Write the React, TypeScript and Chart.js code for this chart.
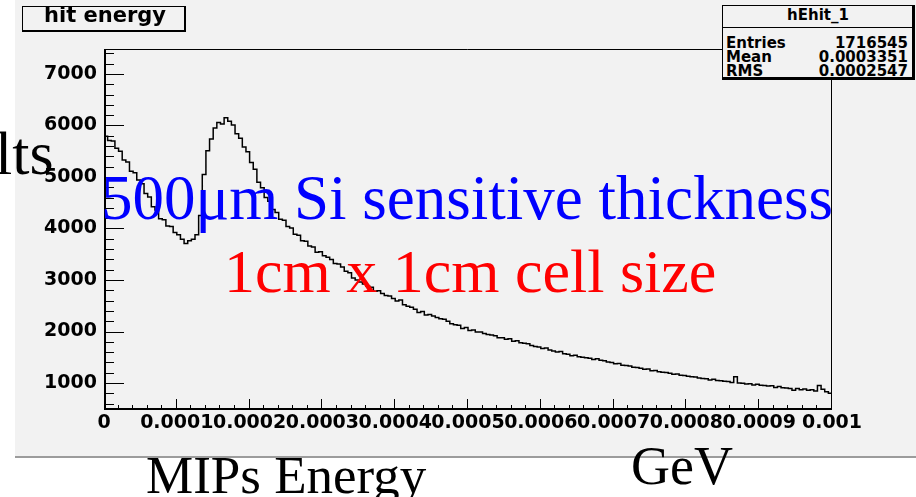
import { useEffect, useRef } from "react";
import { Chart, registerables } from "chart.js";

Chart.register(...registerables);

// Histogram range (GeV) and vertical range of the frame
const X_MIN = 0;
const X_MAX = 0.001;
const Y_MIN = 476;
const Y_MAX = 7485;

// Hit counts per bin (200 equal bins from X_MIN to X_MAX)
const HIT_COUNTS = [
  5790, 5710, 5700, 5560, 5500, 5330, 5290, 5110, 5080, 4940,
  4870, 4680, 4610, 4420, 4360, 4190, 4170, 4050, 4040, 3920,
  3880, 3790, 3710, 3760, 3790, 3880, 4250, 5050, 5510, 5740,
  5950, 6060, 6030, 6150, 6080, 6010, 5840, 5750, 5580, 5490,
  5280, 5150, 4900, 4790, 4600, 4530, 4370, 4310, 4180, 4160,
  4040, 4010, 3890, 3870, 3760, 3750, 3660, 3640, 3540, 3550,
  3470, 3440, 3400, 3320, 3310, 3250, 3170, 3140, 3040, 3000,
  2960, 2920, 2880, 2860, 2780, 2790, 2740, 2700, 2690, 2640,
  2590, 2610, 2520, 2490, 2470, 2430, 2370, 2390, 2320, 2330,
  2300, 2270, 2250, 2240, 2200, 2150, 2130, 2120, 2060, 2080,
  2020, 2030, 1990, 1990, 1960, 1940, 1930, 1920, 1880, 1880,
  1850, 1860, 1810, 1820, 1780, 1770, 1760, 1730, 1710, 1700,
  1670, 1680, 1640, 1620, 1600, 1610, 1570, 1560, 1530, 1540,
  1510, 1500, 1490, 1480, 1455, 1470, 1440, 1430, 1410, 1400,
  1375, 1380, 1345, 1340, 1330, 1305, 1300, 1285, 1265, 1270,
  1240, 1245, 1220, 1210, 1205, 1190, 1170, 1175, 1150, 1145,
  1130, 1120, 1115, 1095, 1090, 1085, 1060, 1075, 1050, 1045,
  1035, 1030, 1010, 1120, 1000, 995, 980, 985, 960, 975,
  955, 950, 940, 945, 915, 930, 910, 905, 895, 860,
  895, 870, 885, 860, 870, 845, 950, 880, 830, 800,
];

const X_TICKS = [0, 0.0001, 0.0002, 0.0003, 0.0004, 0.0005, 0.0006, 0.0007, 0.0008, 0.0009, 0.001];
const X_TICK_LABELS = ["0", "0.0001", "0.0002", "0.0003", "0.0004", "0.0005", "0.0006", "0.0007", "0.0008", "0.0009", "0.001"];
const X_MINOR_STEP = 0.00002;

const Y_TICKS = [1000, 2000, 3000, 4000, 5000, 6000, 7000];
const Y_TICK_LABELS = ["1000", "2000", "3000", "4000", "5000", "6000", "7000"];
const Y_MINOR_STEP = 200;

const HIST_TITLE = "hit energy";
const STATS_NAME = "hEhit_1";
const STATS_KEYS = ["Entries", "Mean", "RMS"];
const STATS_VALUES = ["1716545", "0.0003351", "0.0002547"];

const ROOT_FONT = "'DejaVu Sans', sans-serif";
const SERIF_FONT = "'Liberation Serif', 'Times New Roman', serif";
const PANEL_GREY = "#f2f2f2";

// Frame with thick axes and inward-pointing tick marks
const frameTicks = {
  id: "frameTicks",
  afterDatasetsDraw(chart: any) {
    const { ctx, chartArea: a, scales } = chart;
    const xs = scales.x;
    const ys = scales.y;
    ctx.save();
    ctx.strokeStyle = "#000";
    ctx.lineWidth = 1;
    ctx.beginPath();
    ctx.moveTo(a.left, a.top + 0.5);
    ctx.lineTo(a.right - 0.5, a.top + 0.5);
    ctx.lineTo(a.right - 0.5, a.bottom);
    ctx.stroke();

    ctx.lineWidth = 2;
    ctx.beginPath();
    ctx.moveTo(a.left + 1, a.top);
    ctx.lineTo(a.left + 1, a.bottom - 1);
    ctx.lineTo(a.right, a.bottom - 1);
    ctx.stroke();

    ctx.lineWidth = 1;
    ctx.beginPath();
    const yCount = Math.floor((Y_MAX - Y_MIN) / Y_MINOR_STEP) + 1;
    const yStart = Math.ceil(Y_MIN / Y_MINOR_STEP) * Y_MINOR_STEP;
    for (let k = 0; k < yCount; k++) {
      const v = yStart + k * Y_MINOR_STEP;
      if (v > Y_MAX) break;
      const major = Y_TICKS.some((t) => Math.abs(t - v) < 1e-6);
      const y = Math.round(ys.getPixelForValue(v)) + 0.5;
      ctx.moveTo(a.left + 2, y);
      ctx.lineTo(a.left + (major ? 20 : 10), y);
    }
    const xCount = Math.round((X_MAX - X_MIN) / X_MINOR_STEP);
    for (let k = 1; k <= xCount; k++) {
      const v = X_MIN + k * X_MINOR_STEP;
      const major = X_TICKS.some((t) => Math.abs(t - v) < 1e-10);
      const x = Math.round(xs.getPixelForValue(v)) - 0.5;
      ctx.moveTo(x, a.bottom - 2);
      ctx.lineTo(x, a.bottom - (major ? 11 : 5));
    }
    ctx.stroke();
    ctx.restore();
  },
};

function Txt(props: {
  left?: number;
  right?: number;
  top: number;
  size: number;
  family: string;
  bold?: boolean;
  color?: string;
  center?: boolean;
  children: string;
}) {
  const { left, right, top, size, family, bold, color, center, children } = props;
  return (
    <div
      style={{
        position: "absolute",
        left,
        right,
        top,
        fontSize: size,
        fontFamily: family,
        fontWeight: bold ? 700 : 400,
        color: color ?? "#000",
        lineHeight: 1,
        whiteSpace: "nowrap",
        transform: center ? "translateX(-50%)" : undefined,
      }}
    >
      {children}
    </div>
  );
}

export default function App() {
  const canvasRef = useRef<HTMLCanvasElement>(null);

  useEffect(() => {
    const n = HIT_COUNTS.length;
    const binWidth = (X_MAX - X_MIN) / n;
    const points = HIT_COUNTS.map((c, i) => ({ x: X_MIN + i * binWidth, y: c }));
    points.push({ x: X_MAX, y: HIT_COUNTS[n - 1] });

    const tickFont = { family: ROOT_FONT, weight: "bold" as const, size: 19 };

    const chart = new Chart(canvasRef.current!, {
      type: "line",
      data: {
        datasets: [
          {
            data: points,
            borderColor: "#000",
            borderWidth: 1.5,
            pointRadius: 0,
            stepped: "before",
            fill: false,
          },
        ],
      },
      options: {
        animation: false,
        responsive: false,
        maintainAspectRatio: false,
        events: [],
        layout: { padding: { left: 0, right: 84, top: 49, bottom: 0 } },
        plugins: {
          legend: { display: false },
          tooltip: { enabled: false },
          title: { display: false },
        },
        scales: {
          x: {
            type: "linear",
            min: X_MIN,
            max: X_MAX,
            grid: { display: false, drawTicks: false },
            border: { display: false },
            afterBuildTicks: (s: any) => {
              s.ticks = X_TICKS.map((v) => ({ value: v }));
            },
            afterFit: (s: any) => {
              s.height = 87;
            },
            ticks: {
              autoSkip: false,
              maxRotation: 0,
              minRotation: 0,
              padding: 2,
              color: "#000",
              font: tickFont,
              callback: (v: any) => X_TICK_LABELS[X_TICKS.findIndex((t) => Math.abs(t - Number(v)) < 1e-10)] ?? "",
            },
          },
          y: {
            type: "linear",
            min: Y_MIN,
            max: Y_MAX,
            grid: { display: false, drawTicks: false },
            border: { display: false },
            afterBuildTicks: (s: any) => {
              s.ticks = Y_TICKS.map((v) => ({ value: v }));
            },
            afterFit: (s: any) => {
              s.width = 104;
            },
            ticks: {
              autoSkip: false,
              padding: 7,
              color: "#000",
              font: tickFont,
              callback: (v: any) => Y_TICK_LABELS[Y_TICKS.indexOf(Number(v))] ?? "",
            },
          },
        },
      },
      plugins: [frameTicks],
    });
    return () => chart.destroy();
  }, []);

  return (
    <div
      style={{
        position: "fixed",
        left: 0,
        top: 0,
        width: 916,
        height: 497,
        background: "#fff",
        overflow: "hidden",
      }}
    >
      <div
        style={{
          position: "absolute",
          left: 15,
          top: 0,
          width: 901,
          height: 456,
          background: PANEL_GREY,
          borderBottom: "2px solid #9c9c9c",
        }}
      />
      <canvas
        ref={canvasRef}
        width={916}
        height={497}
        style={{ position: "absolute", left: 0, top: 0, width: 916, height: 497 }}
      />

      {/* histogram title box */}
      <div
        style={{
          position: "absolute",
          left: 22,
          top: 6,
          width: 164,
          height: 26,
          boxSizing: "border-box",
          background: PANEL_GREY,
          borderStyle: "solid",
          borderColor: "#000",
          borderWidth: "1px 2px 2px 1px",
        }}
      />
      <Txt left={105} top={5} size={21} family={ROOT_FONT} bold center>
        {HIST_TITLE}
      </Txt>

      {/* statistics box */}
      <div
        style={{
          position: "absolute",
          left: 722,
          top: 5,
          width: 193,
          height: 75,
          boxSizing: "border-box",
          background: PANEL_GREY,
          borderStyle: "solid",
          borderColor: "#000",
          borderWidth: "1px 3px 3px 1px",
        }}
      />
      <div style={{ position: "absolute", left: 722, top: 27, width: 191, height: 1, background: "#000" }} />
      <Txt left={818} top={8} size={15} family={ROOT_FONT} bold center>
        {STATS_NAME}
      </Txt>
      {STATS_KEYS.map((k, i) => (
        <Txt key={k} left={726} top={35.5 + i * 14} size={15} family={ROOT_FONT} bold>
          {k}
        </Txt>
      ))}
      {STATS_VALUES.map((v, i) => (
        <Txt key={v} right={8} top={35.5 + i * 14} size={15} family={ROOT_FONT} bold>
          {v}
        </Txt>
      ))}

      {/* overlaid slide annotations */}
      <Txt left={-5} top={122} size={62} family={SERIF_FONT}>
        lts
      </Txt>
      <Txt left={101} top={167} size={63} family={SERIF_FONT} color="#0000ff">
        500μm Si sensitive thickness
      </Txt>
      <Txt left={224} top={240} size={62} family={SERIF_FONT} color="#ff0000">
        1cm x 1cm cell size
      </Txt>
      <Txt left={146} top={449} size={53} family={SERIF_FONT}>
        MIPs Energy
      </Txt>
      <Txt left={631} top={439} size={54} family={SERIF_FONT}>
        GeV
      </Txt>
    </div>
  );
}
